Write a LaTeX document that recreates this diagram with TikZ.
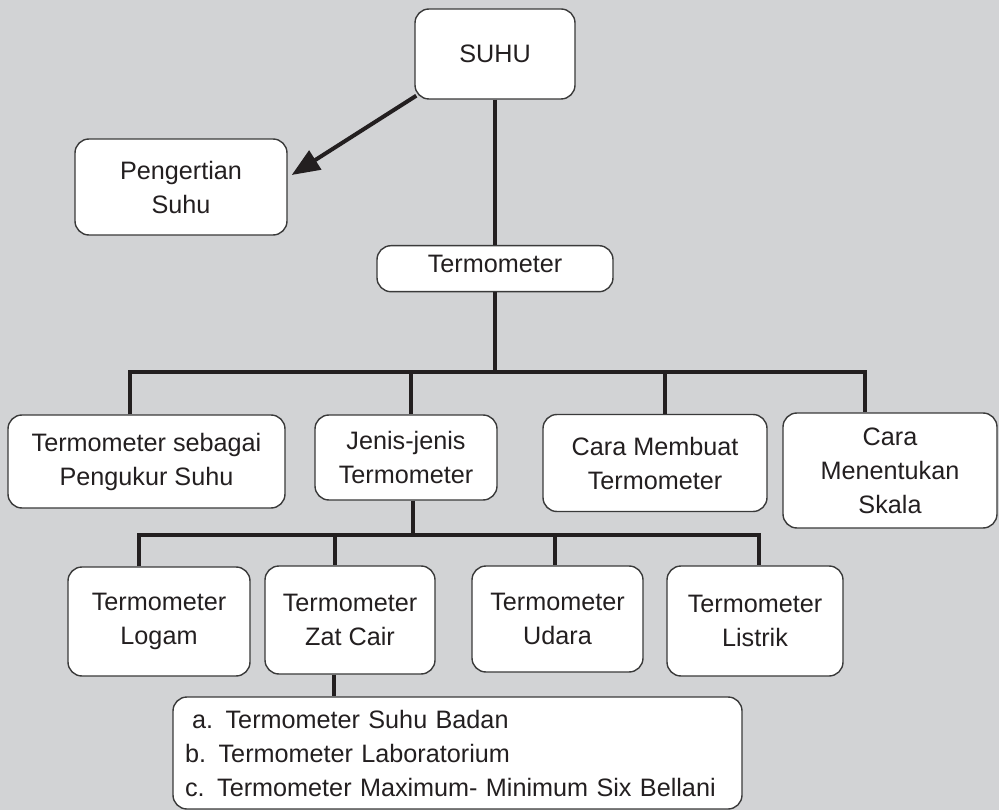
\documentclass[tikz,border=0pt]{standalone}
\usepackage{fontspec}
\setmainfont{Liberation Sans}
\usetikzlibrary{arrows.meta,calc}
\definecolor{bgc}{HTML}{D2D3D5}
\definecolor{linec}{HTML}{231F20}
\definecolor{boxc}{HTML}{3A3A3A}
\newcommand\mainf{\fontsize{25.2}{34}\selectfont}
\tikzset{
  box/.style={draw=boxc, fill=white, rounded corners=14pt, line width=1.4pt,
    font=\mainf, align=center, inner sep=0pt, text=linec},
  conn/.style={draw=linec, line width=4pt, line join=miter},
}
\begin{document}
\begin{tikzpicture}[x=1pt,y=-1pt]
\useasboundingbox (0,0) rectangle (999,810);
\fill[bgc] (0,0) rectangle (999,810);

% level 0/1
\node[box, minimum width=160pt, minimum height=90pt] (suhu) at (495,54) {SUHU};
\node[box, minimum width=212pt, minimum height=96pt] (peng) at (181,187) {Pengertian\\Suhu};
\node[box, minimum width=236pt, anchor=north, text height=27pt, text depth=19pt] (term) at (495,245) {Termometer};

% level 2
\node[box, minimum width=277pt, minimum height=93pt] (ts) at (146.5,461.5) {Termometer sebagai\\Pengukur Suhu};
\node[box, minimum width=182pt, minimum height=85pt] (jenis) at (406,457.5) {Jenis-jenis\\Termometer};
\node[box, minimum width=224pt, minimum height=97pt] (cmt) at (655,463) {Cara Membuat\\Termometer};
\node[box, minimum width=214pt, minimum height=115pt] (cms) at (890,470.5) {Cara\\Menentukan\\Skala};

% level 3
\node[box, minimum width=182pt, minimum height=109pt] (logam) at (159,621.5) {Termometer\\Logam};
\node[box, minimum width=170pt, minimum height=108pt] (zat) at (350,620) {Termometer\\Zat Cair};
\node[box, minimum width=171pt, minimum height=106pt] (udara) at (557.5,619) {Termometer\\Udara};
\node[box, minimum width=176pt, minimum height=110pt] (listrik) at (755,621) {Termometer\\Listrik};

% level 4
\node[box, minimum width=569pt, minimum height=112pt, text width=545pt, inner xsep=12pt, align=left] (list) at (457.5,753)
  {\hspace*{7pt}a. Termometer Suhu Badan\\b. Termometer Laboratorium\\c. Termometer Maximum- Minimum Six Bellani};

% connectors
\draw[conn, -{Triangle[length=28pt,width=22pt]}] ($(suhu.south west)+(2,-4)$) -- ($(peng.east)+(4,-12)$);
\draw[conn] (suhu.south) -- (term.north);

\coordinate (b0) at (495,372);
\coordinate (b1) at (130,372);
\coordinate (b2) at (411,372);
\coordinate (b3) at (665,372);
\coordinate (b4) at (865,372);
\draw[conn] (term.south) -- (b0);
\draw[conn] (b1 |- ts.north) -- (b1) -- (b4) -- (b4 |- cms.north);
\draw[conn] (b2) -- (b2 |- jenis.north);
\draw[conn] (b3) -- (b3 |- cmt.north);

\coordinate (c0) at (413,535);
\coordinate (c1) at (139,535);
\coordinate (c2) at (335,535);
\coordinate (c3) at (555,535);
\coordinate (c4) at (759,535);
\draw[conn] (c0 |- jenis.south) -- (c0);
\draw[conn] (c1 |- logam.north) -- (c1) -- (c4) -- (c4 |- listrik.north);
\draw[conn] (c2) -- (c2 |- zat.north);
\draw[conn] (c3) -- (c3 |- udara.north);

\coordinate (d0) at (334,697);
\draw[conn] (d0 |- zat.south) -- (d0 |- list.north);
\end{tikzpicture}
\end{document}
